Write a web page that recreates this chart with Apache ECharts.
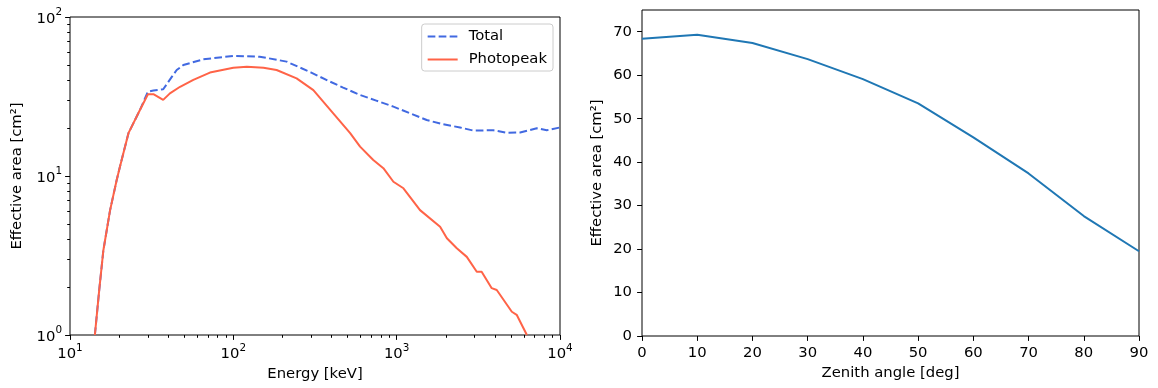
<!DOCTYPE html>
<html>
<head>
<meta charset="utf-8">
<script src="https://cdn.jsdelivr.net/npm/echarts@6/dist/echarts.min.js"></script>
<style>
  html, body { margin: 0; padding: 0; background: #fff; }
  #chart { width: 1158px; height: 388px; }
</style>
</head>
<body>
<div id="chart"></div>
<script>
// left panel: effective area vs energy (log-log)
var totalEnergy = [14.2, 15.1, 16.0, 17.6, 19.3, 20.2, 22.8, 26.8, 30, 32.4, 37.2, 42, 45, 49.4, 65.5, 100, 145, 212, 300, 391, 470, 597, 750, 955, 1208, 1527, 1900, 2443, 2953, 3908, 4720, 5700, 7210, 8300, 10000];
var totalArea   = [1.0, 1.92, 3.4, 6.1, 9.4, 11.4, 18.6, 26, 33.9, 34.5, 35.1, 42, 46.4, 49.9, 54.2, 56.9, 56.3, 52.4, 44.7, 39.2, 36, 32.3, 29.8, 27.3, 24.8, 22.5, 21.2, 20.2, 19.3, 19.4, 18.7, 18.8, 19.95, 19.4, 20.2];

var peakEnergy = [14.2, 15.1, 16.0, 17.6, 19.3, 20.2, 22.8, 26.8, 30, 32.4, 37.2, 40.9, 47.2, 56.9, 71.9, 100, 121, 153, 184, 244, 309, 409, 519, 597, 719, 829, 955, 1100, 1390, 1845, 2030, 2334, 2688, 3093, 3313, 3819, 4100, 5070, 5430, 6270];
var peakArea   = [1.0, 1.92, 3.4, 6.1, 9.4, 11.4, 18.6, 26, 32.7, 32.7, 30.1, 33.1, 36.4, 40.2, 44.7, 48, 48.6, 48, 46.4, 41.1, 34.7, 24.8, 18.6, 15.3, 12.6, 11.2, 9.2, 8.37, 6.1, 4.8, 4.06, 3.51, 3.1, 2.5, 2.5, 1.97, 1.92, 1.4, 1.34, 1.0];

// right panel: effective area vs zenith angle
var zenithAngle = [0, 10, 20, 30, 40, 50, 60, 70, 80, 90];
var zenithArea  = [68.4, 69.3, 67.4, 63.7, 59.1, 53.5, 45.7, 37.4, 27.6, 19.5];

// tick labels
var angleTicks = [0, 10, 20, 30, 40, 50, 60, 70, 80, 90];
var areaTicks  = [0, 10, 20, 30, 40, 50, 60, 70];

var FONT = "DejaVu Sans";
var FS = 14.8;

function pairs(xs, ys) {
    var out = [];
    for (var i = 0; i < xs.length; i++) {
        out.push([xs[i], ys[i]]);
    }
    return out;
}

// matplotlib-style minor ticks for log axes, in exponent space
function minorTicks(lo, hi) {
    var t = [];
    for (var d = lo; d < hi; d++) {
        for (var k = 2; k <= 9; k++) {
            t.push(d + Math.log10(k));
        }
    }
    return t;
}

function powLabel(v) {
    var e = Math.round(Math.log10(v));
    return "{b|10}{s|" + e + "}";
}

var powRich = {
    b: { fontFamily: FONT, fontSize: FS, color: "#000", lineHeight: 19, verticalAlign: "bottom" },
    s: { fontFamily: FONT, fontSize: 10.4, color: "#000", lineHeight: 19, verticalAlign: "top" }
};

var tickStyle = { color: "#000", width: 1 };
var nameStyle = { fontFamily: FONT, fontSize: FS, color: "#000" };

function minorAxis(grid, lo, hi, pos) {
    return {
        type: "value",
        gridIndex: grid,
        position: pos,
        min: lo,
        max: hi,
        axisLine: { show: false },
        splitLine: { show: false },
        axisLabel: { show: false },
        axisTick: { show: true, customValues: minorTicks(lo, hi), length: 2.8, lineStyle: tickStyle }
    };
}

var chart = echarts.init(document.getElementById("chart"), null, { renderer: "canvas" });

var option = {
    animation: false,
    backgroundColor: "#fff",
    textStyle: { fontFamily: FONT },
    grid: [
        { left: 70, top: 17, width: 490, height: 318, show: true, borderColor: "#000", borderWidth: 1, backgroundColor: "transparent" },
        { left: 642, top: 10, width: 497, height: 326, show: true, borderColor: "#000", borderWidth: 1, backgroundColor: "transparent" }
    ],
    legend: {
        orient: "vertical",
        right: 605,
        top: 24,
        itemWidth: 30,
        itemHeight: 14,
        itemGap: 8,
        padding: [5, 6, 4, 5],
        backgroundColor: "rgba(255,255,255,0.8)",
        borderColor: "#cccccc",
        borderWidth: 1,
        borderRadius: 3,
        itemStyle: { opacity: 0 },
        textStyle: { fontFamily: FONT, fontSize: FS, color: "#000", padding: [0, 0, 0, 6] },
        data: ["Total", "Photopeak"]
    },
    xAxis: [
        {
            type: "log",
            logBase: 10,
            gridIndex: 0,
            min: 10,
            max: 10000,
            axisLine: { show: false },
            splitLine: { show: false },
            axisTick: { length: 4.9, lineStyle: tickStyle },
            axisLabel: { formatter: powLabel, rich: powRich, margin: 8 },
            name: "Energy [keV]",
            nameLocation: "middle",
            nameGap: 30,
            nameTextStyle: nameStyle
        },
        minorAxis(0, 1, 4, "bottom"),
        {
            type: "value",
            gridIndex: 1,
            min: 0,
            max: 90,
            interval: 10,
            axisLine: { show: false },
            splitLine: { show: false },
            axisTick: { length: 4.9, lineStyle: tickStyle, customValues: angleTicks },
            axisLabel: { fontFamily: FONT, fontSize: FS, color: "#000", margin: 10, customValues: angleTicks },
            name: "Zenith angle [deg]",
            nameLocation: "middle",
            nameGap: 29,
            nameTextStyle: nameStyle
        }
    ],
    yAxis: [
        {
            type: "log",
            logBase: 10,
            gridIndex: 0,
            min: 1,
            max: 100,
            axisLine: { show: false },
            splitLine: { show: false },
            axisTick: { length: 4.9, lineStyle: tickStyle },
            axisLabel: { formatter: powLabel, rich: powRich, margin: 8 },
            name: "Effective area [cm\u00b2]",
            nameLocation: "middle",
            nameGap: 45,
            nameTextStyle: nameStyle
        },
        minorAxis(0, 0, 2, "left"),
        {
            type: "value",
            gridIndex: 1,
            min: 0,
            max: 75,
            interval: 10,
            axisLine: { show: false },
            splitLine: { show: false },
            axisTick: { length: 4.9, lineStyle: tickStyle, customValues: areaTicks },
            axisLabel: { fontFamily: FONT, fontSize: FS, color: "#000", margin: 10, customValues: areaTicks },
            name: "Effective area [cm\u00b2]",
            nameLocation: "middle",
            nameGap: 37,
            nameTextStyle: nameStyle
        }
    ],
    series: [
        {
            name: "Total",
            type: "line",
            xAxisIndex: 0,
            yAxisIndex: 0,
            symbol: "none",
            lineStyle: { color: "#4169e1", width: 2, type: [7.7, 3.3] },
            itemStyle: { color: "#4169e1" },
            data: pairs(totalEnergy, totalArea),
            z: 3
        },
        {
            name: "Photopeak",
            type: "line",
            xAxisIndex: 0,
            yAxisIndex: 0,
            symbol: "none",
            lineStyle: { color: "#ff6347", width: 2 },
            itemStyle: { color: "#ff6347" },
            data: pairs(peakEnergy, peakArea),
            z: 4
        },
        {
            name: "Zenith",
            type: "line",
            xAxisIndex: 2,
            yAxisIndex: 2,
            symbol: "none",
            lineStyle: { color: "#1f77b4", width: 2 },
            itemStyle: { color: "#1f77b4" },
            data: pairs(zenithAngle, zenithArea)
        }
    ]
};

chart.setOption(option);
</script>
</body>
</html>
